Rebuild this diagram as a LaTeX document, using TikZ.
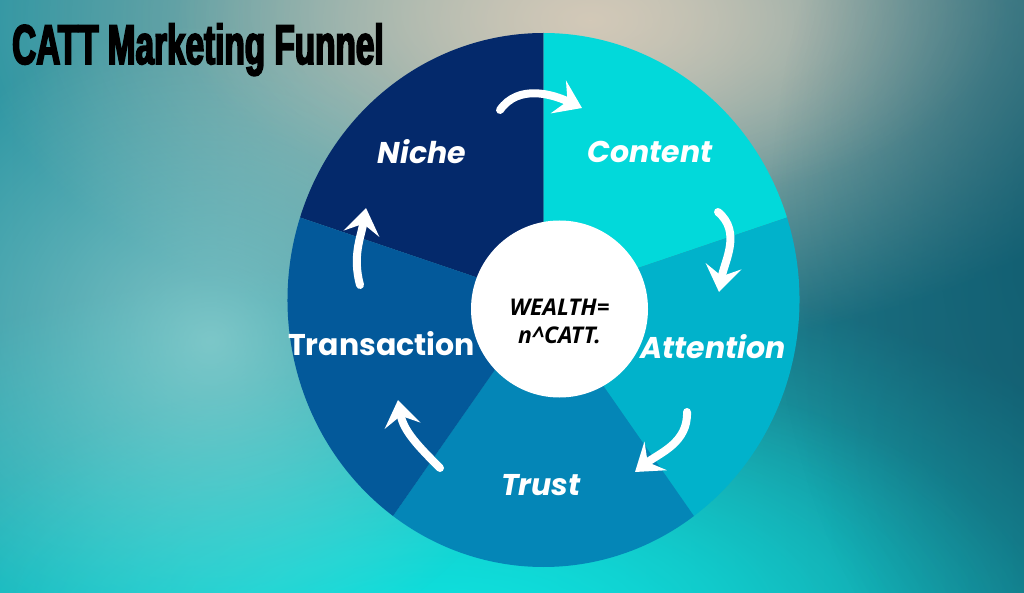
\documentclass[tikz,border=0pt]{standalone}
\usepackage{fontspec}
\usepackage{xcolor}
\usetikzlibrary{arrows.meta,positioning,calc,fadings}

\newfontfamily\titlefont[FakeStretch=0.595,FakeBold=3]{Liberation Sans}
\newfontfamily\segfont{Poppins}
\newfontfamily\hubfont{Open Sans}

\definecolor{nichecol}{HTML}{04296B}
\definecolor{contentcol}{HTML}{02D9DA}
\definecolor{attncol}{HTML}{01B2CB}
\definecolor{trustcol}{HTML}{0486B7}
\definecolor{transcol}{HTML}{03599A}
\definecolor{bgleft}{HTML}{2E96A3}
\definecolor{bgright}{HTML}{17697B}
\definecolor{bgcyan}{HTML}{0EE4E0}
\definecolor{bgsand}{HTML}{D3C9B8}
\definecolor{bglight}{HTML}{9AD6D4}
\definecolor{bgdark}{HTML}{10586C}

\tikzfading[name=glowfade, inner color=transparent!0, outer color=transparent!100]

\begin{document}
\begin{tikzpicture}[
    x=1pt, y=1pt,
    seglabel/.style={font=\segfont\bfseries\itshape\fontsize{30}{36}\selectfont, text=white, anchor=base, inner sep=0pt},
    hubtxt/.style={font=\hubfont\bfseries\itshape\fontsize{23}{28}\selectfont, text=black, align=center, inner sep=0pt},
    cyclearrow/.style={white, line width=8pt, line cap=round, -{Stealth[length=26pt, width=36pt, inset=10pt]}}
  ]
  \useasboundingbox (0,0) rectangle (1024,-593);

  %% Background
  \shade[left color=bgleft, right color=bgright] (0,0) rectangle (1024,-593);
  \fill[bgcyan, path fading=glowfade] (430,-660) ellipse[x radius=820, y radius=400];
  \fill[bgcyan, opacity=.7, path fading=glowfade] (480,-620) ellipse[x radius=560, y radius=260];
  \fill[bgsand, path fading=glowfade] (590,-20) ellipse[x radius=620, y radius=330];
  \fill[bgsand, opacity=.6, path fading=glowfade] (590,-10) ellipse[x radius=420, y radius=200];
  \fill[bglight, opacity=.75, path fading=glowfade] (210,-340) ellipse[x radius=340, y radius=320];
  \fill[bgdark, opacity=.6, path fading=glowfade] (1070,-230) ellipse[x radius=300, y radius=520];

  %% Title
  \node[font=\titlefont\bfseries\fontsize{56}{62}\selectfont, anchor=base west, inner sep=0pt] (title) at (12,-64) {CATT Marketing Funnel};

  %% Pie sectors
  \coordinate (pie) at (543.5,-300);
  \fill[nichecol]   (pie) -- ($(pie)+(90:256 and 267)$)  arc[start angle=90,  end angle=162, x radius=256, y radius=267] -- cycle;
  \fill[contentcol] (pie) -- ($(pie)+(18:256 and 267)$)  arc[start angle=18,  end angle=90,  x radius=256, y radius=267] -- cycle;
  \fill[attncol]    (pie) -- ($(pie)+(-54:256 and 267)$) arc[start angle=-54, end angle=18,  x radius=256, y radius=267] -- cycle;
  \fill[trustcol]   (pie) -- ($(pie)+(-126:256 and 267)$) arc[start angle=-126, end angle=-54, x radius=256, y radius=267] -- cycle;
  \fill[transcol]   (pie) -- ($(pie)+(162:256 and 267)$) arc[start angle=162, end angle=234, x radius=256, y radius=267] -- cycle;

  %% Hub
  \node[circle, fill=white, minimum size=177pt, inner sep=0pt] (hub) at (559.5,-309) {};
  \node[hubtxt] (formula) at ($(hub)+(0,-12)$) {WEALTH=\\n\textasciicircum CATT.};

  %% Sector labels
  \node[seglabel] (niche)   at (422,-164)   {Niche};
  \node[seglabel] (content) at (650,-163)   {Content};
  \node[seglabel] (attn)    at (713,-358)   {Attention};
  \node[seglabel] (trust)   at (541,-495)   {Trust};
  \node[seglabel, font=\segfont\bfseries\fontsize{30}{36}\selectfont] (trans) at (381.5,-355) {Transaction};

  %% Cycle arrows
  \coordinate (nc1) at (500,-110);
  \coordinate (nc2) at (582,-108);
  \coordinate (ca1) at (718,-212);
  \coordinate (ca2) at (719,-292);
  \coordinate (at1) at (687,-412);
  \coordinate (at2) at (635,-472);
  \coordinate (tt1) at (440,-468);
  \coordinate (tt2) at (398,-400);
  \coordinate (tn1) at (360,-285);
  \coordinate (tn2) at (366,-208);

  \draw[cyclearrow] (nc1) to[out=55, in=155] (nc2);
  \draw[cyclearrow] (ca1) to[out=-40, in=80] (ca2);
  \draw[cyclearrow] (at1) to[out=-88, in=38] (at2);
  \draw[cyclearrow] (tt1) to[out=135, in=-80] (tt2);
  \draw[cyclearrow] (tn1) to[out=105, in=-100] (tn2);

\end{tikzpicture}
\end{document}
